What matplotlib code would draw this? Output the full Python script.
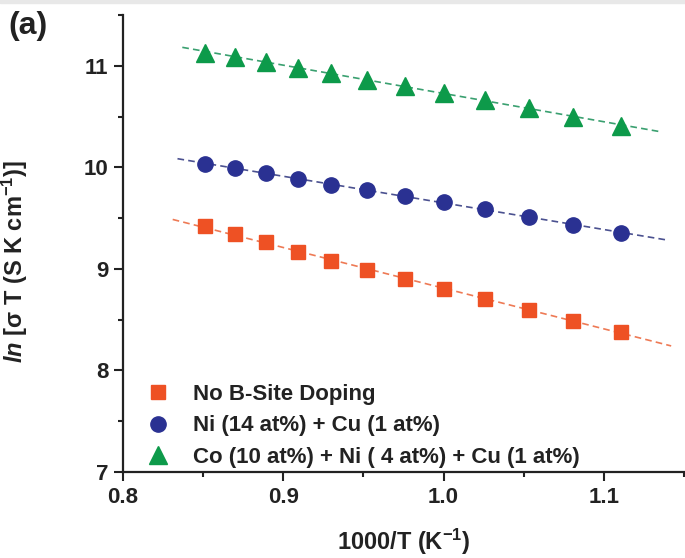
import numpy as np
import matplotlib
matplotlib.use('Agg')
import matplotlib.pyplot as plt
from matplotlib.patches import Rectangle
from matplotlib.ticker import MultipleLocator

plt.rcParams['font.family'] = ['Liberation Sans', 'DejaVu Sans']
plt.rcParams['font.weight'] = 'bold'
plt.rcParams['mathtext.fontset'] = 'custom'
plt.rcParams['mathtext.rm'] = 'Liberation Sans:bold'
plt.rcParams['mathtext.it'] = 'Liberation Sans:italic:bold'
plt.rcParams['mathtext.bf'] = 'Liberation Sans:bold'

# 1000/T for T = 1175 ... 900 K
inv_t = [0.851, 0.870, 0.889, 0.909, 0.930, 0.952, 0.976, 1.000, 1.026, 1.053, 1.081, 1.111]

no_doping = [9.42, 9.34, 9.26, 9.17, 9.08, 8.99, 8.90, 8.80, 8.70, 8.60, 8.49, 8.38]
ni_cu = [10.03, 9.99, 9.94, 9.89, 9.83, 9.78, 9.72, 9.66, 9.59, 9.51, 9.43, 9.35]
co_ni_cu = [11.13, 11.09, 11.04, 10.98, 10.93, 10.86, 10.80, 10.73, 10.66, 10.58, 10.50, 10.41]

labels = ['No B-Site Doping', 'Ni (14 at%) + Cu (1 at%)',
          'Co (10 at%) + Ni ( 4 at%) + Cu (1 at%)']
fit_ranges = [(0.831, 1.142), (0.834, 1.140), (0.837, 1.135)]

series = [no_doping, ni_cu, co_ni_cu]
markers = ['s', 'o', '^']
sizes = [9.5, 11, 12.5]
colors = ['#EE5124', '#2A3192', '#0D9A4A']
line_colors = ['#EE7A55', '#4B5190', '#3AA070']

fig = plt.figure(figsize=(6.85, 5.58), dpi=100)
ax = fig.add_axes([123 / 685, 1 - 472 / 558, 561 / 685, 457 / 558])

x = np.array(inv_t)
for ys, fr, lc in zip(series, fit_ranges, line_colors):
    k, b = np.polyfit(x, ys, 1)
    xf = np.array(fr)
    ax.plot(xf, k * xf + b, ls=(0, (4, 2.5)), color=lc, lw=1.2, zorder=1)

for ys, m, s, c, lab in zip(series, markers, sizes, colors, labels):
    ax.plot(x, ys, ls='none', marker=m, ms=s, color=c, mec=c, label=lab, zorder=3)

ax.set_xlim(0.8, 1.15)
ax.set_ylim(7, 11.5)
ax.xaxis.set_major_locator(MultipleLocator(0.1))
ax.xaxis.set_minor_locator(MultipleLocator(0.05))
ax.yaxis.set_major_locator(MultipleLocator(1))
ax.yaxis.set_minor_locator(MultipleLocator(0.5))
ax.set_xticks([0.8, 0.9, 1.0, 1.1])
ax.set_xticklabels(['0.8', '0.9', '1.0', '1.1'])

for side in ['top', 'right']:
    ax.spines[side].set_visible(False)
for side in ['left', 'bottom']:
    ax.spines[side].set_linewidth(1.6)
    ax.spines[side].set_color('#222222')

ax.tick_params(which='major', length=6.5, width=1.5, pad=4, labelsize=16,
               color='#222222', labelcolor='#222222')
ax.tick_params(which='minor', length=3.5, width=1.5, color='#222222')
for t in ax.get_xticklabels() + ax.get_yticklabels():
    t.set_fontweight('bold')

ax.set_xlabel('1000/T (K$^{-1}$)', fontsize=17, fontweight='bold', labelpad=14, color='#222222')
ax.set_ylabel(r'$\mathit{ln}$ [σ T (S K cm$^{-1}$)]', fontsize=17, fontweight='bold',
              color='#222222')
ax.yaxis.set_label_coords(-0.165, 0.46)

leg = ax.legend(loc='lower left', bbox_to_anchor=(0.027, -0.011), frameon=False,
                fontsize=16, handlelength=1.0, handletextpad=1.05, labelspacing=0.48,
                borderaxespad=0)
for t in leg.get_texts():
    t.set_fontweight('bold')
    t.set_color('#222222')

fig.text(8 / 685, 1 - 11 / 558, '(a)', fontsize=23, fontweight='bold', color='#222222',
         va='top')
fig.patches.append(Rectangle((0, 1 - 3 / 558), 1, 3 / 558, transform=fig.transFigure,
                             color='#e8e8e8', zorder=0))

fig.savefig('out.png', dpi=100)
